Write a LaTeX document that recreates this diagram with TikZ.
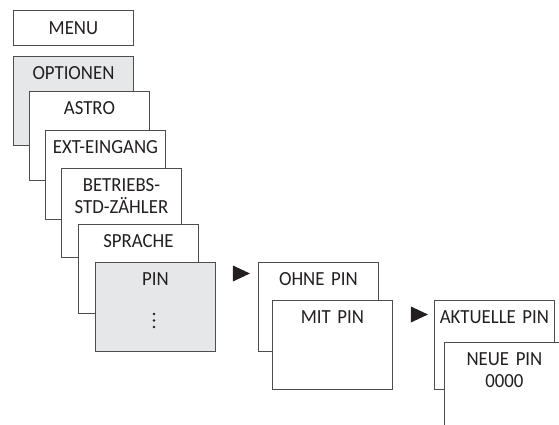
\documentclass[tikz,border=0pt]{standalone}
\usepackage{fontspec}
\setmainfont[FakeStretch=0.94]{Carlito}
\usetikzlibrary{shapes.geometric}
\definecolor{linegray}{HTML}{4D4D4D}
\definecolor{boxgray}{HTML}{E6E7E8}
\definecolor{textgray}{HTML}{231F20}

\tikzset{
  menubox/.style={draw=linegray, line width=0.9pt, fill=white, anchor=north west,
    inner sep=0pt, text width=120pt, align=center, text=textgray,
    font=\fontsize{20}{22}\selectfont, text height=23pt, text depth=66pt},
  pointer/.style={isosceles triangle, isosceles triangle stretches, fill=textgray,
    inner sep=0pt, minimum height=17pt, minimum width=16pt}
}

\begin{document}
\begin{tikzpicture}[x=1pt,y=-1pt]
    \useasboundingbox (0,0) rectangle (559,425);
    \clip (0,0) rectangle (559,425);

    % main menu column
    \node[menubox, text height=24pt, text depth=11pt] (menu) at (13,10) {MENU};
    \foreach \x/\y/\name/\bg/\txt in {13/56/opt/boxgray/OPTIONEN, 29/91/astro/white/ASTRO,
        45/130/ext/white/EXT-EINGANG, 61/168/std/white/{BETRIEBS-\\STD-ZÄHLER},
        78/224/lang/white/SPRACHE, 95/262/pin/boxgray/PIN} {
      \node[menubox, fill=\bg] (\name) at (\x,\y) {\txt};
    }
    \foreach \yy in {314,320.5,327} {
      \fill[textgray] (154,\yy) circle (1.4pt);
    }

    % pin choices
    \node[pointer] (arrA) at (238,273.5) {};
    \node[menubox] (nopin) at (258,262) {OHNE PIN};
    \node[menubox] (withpin) at (272,300) {MIT PIN};

    % new pin
    \node[pointer] (arrB) at (416,314.5) {};
    \node[menubox] (curpin) at (434,300) {AKTUELLE PIN};
    \node[menubox] (newpin) at (444,342) {NEUE PIN\\0000};
\end{tikzpicture}
\end{document}
